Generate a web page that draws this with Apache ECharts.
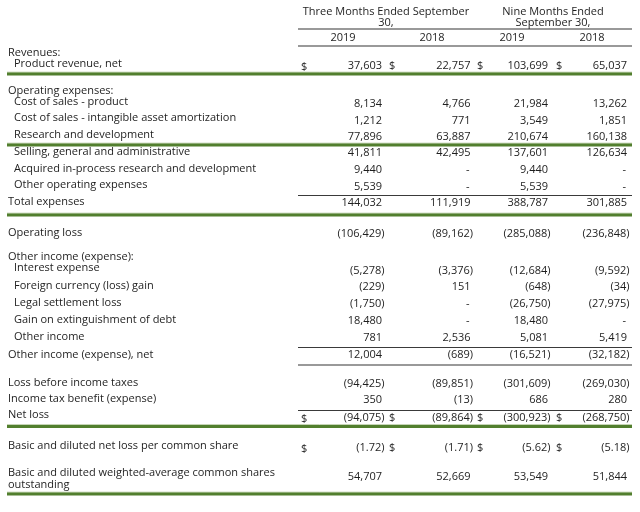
<!DOCTYPE html>
<html><head><meta charset="utf-8">
<script src="https://cdn.jsdelivr.net/npm/echarts@6/dist/echarts.min.js"></script>
<style>html,body{margin:0;padding:0;background:#fff}#c{width:640px;height:512px}</style>
</head><body><div id="c"></div>
<script>
// ---------------- DATA ----------------
const groupHeaders = ['Three Months Ended September\n30,', 'Nine Months Ended\nSeptember 30,'];
const yearLabels = ['2019', '2018', '2019', '2018'];
const rowLabels = [
  'Revenues:',
  'Product revenue, net',
  'Operating expenses:',
  'Cost of sales - product',
  'Cost of sales - intangible asset amortization',
  'Research and development',
  'Selling, general and administrative',
  'Acquired in-process research and development',
  'Other operating expenses',
  'Total expenses',
  'Operating loss',
  'Other income (expense):',
  'Interest expense',
  'Foreign currency (loss) gain',
  'Legal settlement loss',
  'Gain on extinguishment of debt',
  'Other income',
  'Other income (expense), net',
  'Loss before income taxes',
  'Income tax benefit (expense)',
  'Net loss',
  'Basic and diluted net loss per common share',
  'Basic and diluted weighted-average common shares\noutstanding'
];
// null = blank cell, 0 = shown as "-"
const threeMonths2019 = [null, 37603, null, 8134, 1212, 77896, 41811, 9440, 5539, 144032, -106429, null, -5278, -229, -1750, 18480, 781, 12004, -94425, 350, -94075, -1.72, 54707];
const threeMonths2018 = [null, 22757, null, 4766, 771, 63887, 42495, 0, 0, 111919, -89162, null, -3376, 151, 0, 0, 2536, -689, -89851, -13, -89864, -1.71, 52669];
const nineMonths2019  = [null, 103699, null, 21984, 3549, 210674, 137601, 9440, 5539, 388787, -285088, null, -12684, -648, -26750, 18480, 5081, -16521, -301609, 686, -300923, -5.62, 53549];
const nineMonths2018  = [null, 65037, null, 13262, 1851, 160138, 126634, 0, 0, 301885, -236848, null, -9592, -34, -27975, 0, 5419, -32182, -269030, 280, -268750, -5.18, 51844];
const dollarRows = [1, 20, 21];
const decimalRows = [21];

// ---------------- LAYOUT ----------------
const columns = [threeMonths2019, threeMonths2018, nineMonths2019, nineMonths2018];
const indentRows = [1, 3, 4, 5, 6, 7, 8, 12, 13, 14, 15, 16];
const labelX = 8, indentX = 14;
const labelY = [53, 64, 91, 101.5, 118, 135, 152, 168.5, 185, 201.5, 233, 257, 268, 286, 303, 320, 336.5, 355, 382.5, 398.5, 415, 445.5, 478.5];
const valueY = [53, 65.5, 91, 104, 121, 137, 152.5, 169.5, 186.5, 202.5, 234, 257, 270.5, 287, 304, 321, 338, 355, 384, 400, 417.5, 447.5, 476.5];
const colRight = [382, 470.5, 548, 627];
const parenShift = 2.5;
const dollarX = [301, 389, 477, 556];
const groupX = [386, 553], groupY = 17.5;
const yearX = [343, 432, 512, 592], yearY = 37.5;
const rules = [
  // [x1, x2, y, kind]
  [298, 632, 29, 'grey'],
  [298, 632, 46, 'grey'],
  [7, 632, 74, 'green'],
  [7, 632, 145, 'green'],
  [298, 632, 195.5, 'dark'],
  [7, 632, 215, 'green'],
  [298, 632, 347.5, 'dark'],
  [298, 632, 365, 'grey'],
  [298, 632, 410.5, 'dark'],
  [7, 632, 426.5, 'green'],
  [7, 632, 494, 'green']
];

// ---------------- BUILD ----------------
const FONT = '11px "Open Sans"';
const INK = '#1e1e1e';
function fmt(v, dec) {
  if (v === null) return '';
  if (v === 0) return '-';
  const s = Math.abs(v).toLocaleString('en-US', {minimumFractionDigits: dec, maximumFractionDigits: dec});
  return v < 0 ? '(' + s + ')' : s;
}
const texts = []; // {x,y,text,align,lh}
groupHeaders.forEach((t, i) => texts.push({x: groupX[i], y: groupY, text: t, align: 'center', lh: 10.5}));
yearLabels.forEach((t, i) => texts.push({x: yearX[i], y: yearY, text: t, align: 'center'}));
rowLabels.forEach((t, r) => {
  texts.push({x: indentRows.includes(r) ? indentX : labelX, y: labelY[r], text: t, align: 'left', lh: 12});
  const dec = decimalRows.includes(r) ? 2 : 0;
  columns.forEach((col, c) => {
    const v = col[r];
    if (v === null) return;
    texts.push({x: colRight[c] + (v < 0 ? parenShift : 0) - (v === 0 ? 1 : 0), y: valueY[r], text: fmt(v, dec), align: 'right'});
    if (dollarRows.includes(r)) {
      texts.push({x: dollarX[c], y: valueY[r] + (c === 0 ? 1.5 : 0), text: '$', align: 'left'});
    }
  });
});

const chart = echarts.init(document.getElementById('c'), null, {renderer: 'canvas'});
chart.setOption({
  animation: false,
  backgroundColor: '#ffffff',
  grid: {left: 0, right: 0, top: 0, bottom: 0},
  xAxis: {type: 'value', min: 0, max: 640, show: false},
  yAxis: {type: 'value', min: 0, max: 512, inverse: true, show: false},
  series: [
    {
      type: 'custom',
      silent: true,
      data: rules.map(r => [r[0], r[2], r[1]]),
      renderItem: function (params, api) {
        const r = rules[params.dataIndex];
        const p1 = api.coord([api.value(0), api.value(1)]);
        const p2 = api.coord([api.value(2), api.value(1)]);
        if (r[3] === 'green') {
          return {type: 'group', children: [
            {type: 'line', shape: {x1: p1[0], y1: p1[1] - 1.8, x2: p2[0], y2: p2[1] - 1.8}, style: {stroke: '#b9cca6', lineWidth: 1}},
            {type: 'line', shape: {x1: p1[0], y1: p1[1], x2: p2[0], y2: p2[1]}, style: {stroke: '#527f2e', lineWidth: 3}}
          ]};
        }
        return {type: 'line', shape: {x1: p1[0], y1: p1[1], x2: p2[0], y2: p2[1]},
          style: {stroke: r[3] === 'dark' ? '#3a3a3a' : '#777777', lineWidth: r[3] === 'dark' ? 1.2 : 1.5}};
      }
    },
    {
      type: 'custom',
      silent: true,
      data: texts.map(t => [t.x, t.y]),
      renderItem: function (params, api) {
        const t = texts[params.dataIndex];
        const p = api.coord([api.value(0), api.value(1)]);
        return {type: 'text', x: p[0], y: p[1], style: {
          text: t.text, font: FONT, fill: INK, align: t.align, verticalAlign: 'middle', lineHeight: t.lh || 12
        }};
      }
    }
  ]
});
</script></body></html>
